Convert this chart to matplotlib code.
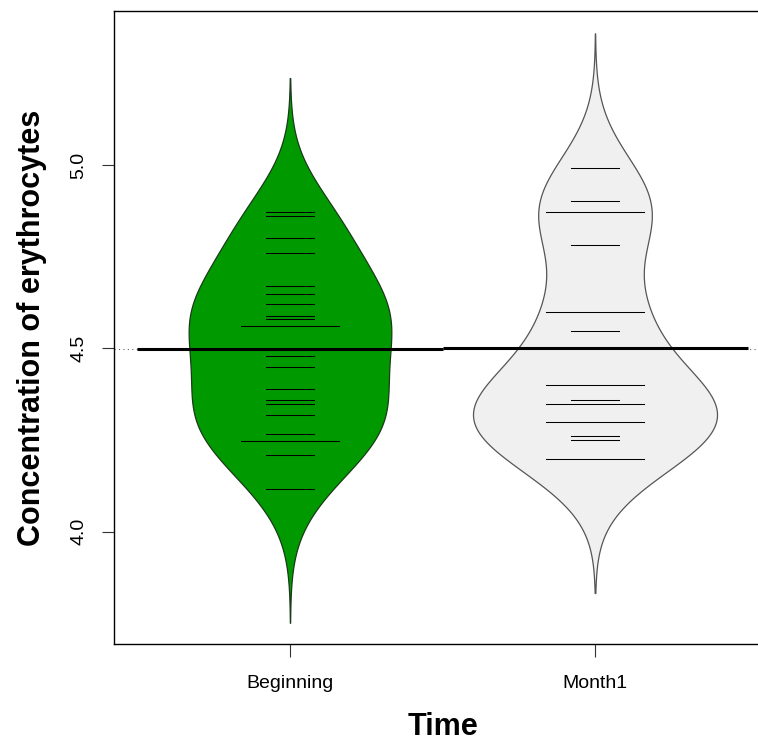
import numpy as np
import matplotlib.pyplot as plt

# erythrocyte concentrations (duplicates listed twice)
beginning = [4.871, 4.861, 4.800, 4.760, 4.670, 4.649, 4.622, 4.589, 4.579,
             4.560, 4.560, 4.478, 4.449, 4.389, 4.360, 4.349, 4.319, 4.267,
             4.248, 4.248, 4.210, 4.118]
month1 = [4.993, 4.901, 4.872, 4.872, 4.781, 4.600, 4.600, 4.548, 4.399,
          4.399, 4.360, 4.348, 4.348, 4.299, 4.299, 4.260, 4.249, 4.199, 4.199]
groups = ["Beginning", "Month1"]
fills = ["#009a00", "#f0f0f0"]
borders = ["#1a3a1a", "#555555"]

bw = 0.122
cut = 3
maxwidth = 0.8
ll = 0.16

plt.rcParams['font.family'] = ['Liberation Sans', 'DejaVu Sans']

fig = plt.figure(figsize=(7.58, 7.41), dpi=100)
ax = fig.add_axes([114 / 758, 1 - 644 / 741, (771 - 114) / 758, (644 - 11) / 741])

data = [np.array(beginning), np.array(month1)]

# gaussian kernel density per bean, as beanplot does
dens = []
for d in data:
    grid = np.linspace(d.min() - cut * bw, d.max() + cut * bw, 400)
    k = np.exp(-0.5 * ((grid[:, None] - d[None, :]) / bw) ** 2).sum(axis=1)
    k = k / (len(d) * bw * np.sqrt(2 * np.pi))
    dens.append((grid, k))
scale = maxwidth / 2 / max(k.max() for _, k in dens)

overall = np.concatenate(data).mean()
ax.axhline(overall, color="#666666", lw=0.8, ls=(0, (1, 3)), zorder=1)

for i, (d, (grid, k)) in enumerate(zip(data, dens)):
    pos = i + 1
    hw = k * scale
    ax.fill_betweenx(grid, pos - hw, pos + hw, facecolor=fills[i],
                     edgecolor=borders[i], lw=0.9, zorder=2)
    vals, counts = np.unique(d, return_counts=True)
    for v, c in zip(vals, counts):
        half = ll * c / 2
        ax.plot([pos - half, pos + half], [v, v], color="black", lw=0.75, zorder=3)
    ax.plot([pos - 0.5, pos + 0.5], [d.mean(), d.mean()], color="black",
            lw=2.2, solid_capstyle="butt", zorder=4)

ax.set_xlim(0.423, 2.577)
ax.set_ylim(3.694, 5.420)
ax.set_xticks([1, 2])
ax.set_xticklabels(groups, fontsize=14)
ax.set_yticks([4.0, 4.5, 5.0])
ax.set_yticklabels(["4.0", "4.5", "5.0"], fontsize=14, rotation=90, va="center")
ax.tick_params(axis="both", length=9, width=0.8, color="#333333")
ax.tick_params(axis="y", pad=10)
ax.tick_params(axis="x", pad=13)
for s in ax.spines.values():
    s.set_linewidth(1.0)

ax.set_xlabel("Time", fontsize=22, fontweight="bold", labelpad=15)
ax.set_ylabel("Concentration of erythrocytes", fontsize=22, fontweight="bold", labelpad=17)

fig.savefig("out.png", dpi=100)
